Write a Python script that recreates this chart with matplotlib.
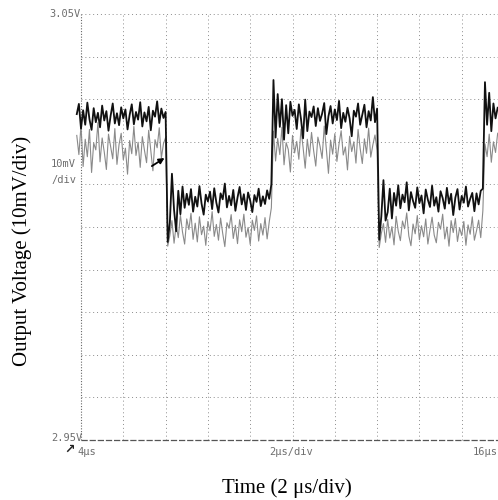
import numpy as np
import matplotlib
matplotlib.use("Agg")
import matplotlib.pyplot as plt

# scope settings
T_START = -4.2          # first sample, us
DT = 0.1                # sample spacing, us
V_REF = 3.000           # trace values below are mV relative to this

# dark trace (mV above 3.000 V)
black_mv = [
    # high, -4.2 .. 0.0 us
    26.5, 28.9, 23.1, 27.4, 24.0, 29.2, 25.3, 22.8, 27.9, 24.6,
    26.8, 23.4, 28.5, 25.0, 27.2, 22.6, 26.1, 29.0, 24.3, 26.7,
    23.9, 28.1, 25.5, 27.6, 22.9, 26.3, 28.8, 24.1, 27.0, 25.2,
    29.3, 23.6, 26.9, 24.8, 28.2, 22.7, 27.3, 25.9, 29.5, 24.4,
    27.8, 25.6, 27.0,
    # low, 0.1 .. 5.0 us
    -3.5, 1.0, 12.5, 4.0, -1.0, 8.5, 3.0, 9.5, 4.5, 7.8,
    5.2, 8.9, 3.6, 7.1, 4.8, 9.6, 5.5, 2.9, 7.6, 6.0,
    8.3, 4.2, 9.1, 5.7, 3.4, 7.9, 6.5, 10.2, 4.6, 7.3,
    5.1, 8.7, 3.8, 6.9, 9.4, 5.3, 7.7, 4.0, 8.1, 6.2,
    3.5, 7.5, 5.9, 9.0, 4.9, 7.2, 5.4, 8.6, 6.6, 10.0,
    # high, 5.1 .. 10.0 us
    34.5, 21.0, 31.2, 23.5, 30.0, 20.5, 28.6, 22.0, 29.4, 26.1,
    27.5, 23.0, 28.8, 25.4, 20.8, 29.9, 22.5, 27.1, 25.8, 28.3,
    23.7, 27.9, 24.9, 26.6, 29.1, 21.8, 26.0, 28.4, 24.3, 27.6,
    25.1, 29.6, 23.2, 26.8, 24.7, 28.0, 25.5, 21.3, 27.3, 25.9,
    29.0, 24.0, 26.4, 28.7, 23.4, 27.2, 25.0, 30.5, 24.6, 27.8,
    # low, 10.1 .. 15.0 us
    -3.0, 2.5, 11.0, 1.5, 3.5, 9.0, 2.0, 8.0, 5.0, 9.8,
    4.4, 7.6, 5.8, 10.5, 3.9, 8.2, 6.1, 4.5, 9.3, 5.6,
    7.4, 3.2, 8.8, 6.4, 4.7, 9.7, 5.0, 7.0, 3.6, 8.4,
    6.8, 4.3, 9.2, 5.5, 7.8, 2.8, 6.9, 8.9, 4.1, 7.3,
    5.7, 9.5, 4.8, 6.6, 8.0, 3.7, 7.9, 5.3, 8.5, 9.0,
    # high, 15.1 .. 15.7 us
    34.0, 24.0, 31.5, 22.5, 29.0, 25.5, 28.0,
]

# light trace (mV above 3.000 V)
gray_mv = [
    21.5, 17.0, 23.8, 14.2, 20.6, 16.5, 22.9, 12.8, 19.7, 18.1,
    24.5, 15.3, 20.9, 17.6, 13.5, 21.8, 18.9, 16.0, 23.1, 14.7,
    19.4, 22.0, 15.8, 18.5, 12.4, 20.3, 17.2, 23.6, 16.8, 19.9,
    14.0, 21.2, 18.0, 15.1, 22.7, 17.9, 13.2, 20.5, 18.6, 23.3,
    16.2, 19.6, 21.0,
    -4.5, -2.0, 1.5, -3.8, 0.5, -2.5, 2.8, -1.2, -4.0, 1.9,
    -0.6, 3.2, -2.9, 0.9, -3.5, 2.4, -1.8, 0.2, -4.3, 1.3,
    -0.9, 3.6, -2.2, 0.6, -3.1, 2.1, -1.5, -4.6, 1.0, -0.3,
    2.9, -2.7, 0.4, -3.9, 1.7, -1.1, 3.0, -2.4, -0.1, -4.1,
    1.6, -0.8, 2.6, -3.3, 0.8, -1.9, 2.2, -2.8, 1.2, 4.5,
    22.5, 15.5, 20.8, 17.0, 23.4, 14.6, 19.8, 18.2, 12.9, 21.5,
    17.4, 20.1, 15.9, 23.0, 18.7, 13.8, 20.6, 16.6, 22.2, 17.9,
    14.3, 21.1, 19.0, 16.1, 23.7, 18.3, 12.6, 20.4, 17.1, 21.9,
    15.4, 19.5, 22.6, 16.9, 18.8, 13.4, 21.3, 17.7, 20.0, 15.0,
    22.9, 18.4, 14.9, 20.7, 17.3, 23.2, 16.4, 19.3, 21.6, 18.0,
    -4.8, -1.5, 0.8, -3.6, 1.8, -2.6, 0.1, -4.2, 2.5, -1.0,
    -3.2, 1.4, -0.4, 3.3, -2.1, -4.4, 0.7, -1.6, 2.7, -3.0,
    0.3, -2.3, 1.9, -4.0, -0.7, 2.3, -1.9, -3.7, 1.1, -0.5,
    3.0, -2.8, 0.0, -4.5, 1.5, -1.3, 2.0, -3.4, -0.2, -2.0,
    1.3, -4.3, 0.5, -1.7, 2.4, -3.1, -0.9, 1.6, -2.5, 3.8,
    19.5, 16.5, 21.8, 15.2, 20.0, 17.5, 22.0,
]

# screen: 10 x 10 divisions
T_MIN, T_MAX = -4.0, 16.0
V_MIN, V_MAX = 2.95, 3.05

t = T_START + DT * np.arange(len(black_mv))
v_black = V_REF + np.array(black_mv) / 1000.0
v_gray = V_REF + np.array(gray_mv) / 1000.0

fig = plt.figure(figsize=(4.98, 5.0), dpi=100)
# right edge of the screen runs just past the picture, as in the scan
ax = fig.add_axes([81 / 498, 60 / 500, 423 / 498, 426 / 500])
ax.set_xlim(T_MIN, T_MAX)
ax.set_ylim(V_MIN, V_MAX)
for s in ax.spines.values():
    s.set_visible(False)
ax.set_xticks([])
ax.set_yticks([])

grid_kw = dict(color="#8c8c8c", lw=0.7, ls=(0, (1, 3)), zorder=1, clip_on=False)
for x in np.linspace(T_MIN, T_MAX, 11)[1:]:
    ax.axvline(x, **grid_kw)
for y in np.linspace(V_MIN, V_MAX, 11)[1:]:
    ax.axhline(y, **grid_kw)
ax.axvline(T_MIN, color="#666666", lw=0.8, ls=(0, (1, 1.5)), zorder=1, clip_on=False)
ax.axhline(V_MIN, color="#555555", lw=0.9, ls=(0, (5, 1.5)), zorder=1, clip_on=False)

ax.plot(t, v_gray, color="#8a8a8a", lw=0.8, zorder=2, clip_on=False)
ax.plot(t, v_black, color="#111111", lw=1.3, zorder=3, clip_on=False)

# marker arrow pointing at the falling edge
ax.annotate("", xy=(-0.05, 3.0162), xytext=(-0.65, 3.0143),
            arrowprops=dict(arrowstyle="-|>", color="black", lw=1.3,
                            mutation_scale=8, shrinkA=0, shrinkB=0))

# scope annotations
mono = dict(family="DejaVu Sans Mono", fontsize=7.5, color="#6e6e6e")
fig.text(81 / 498, 1 - 14 / 500, "3.05V", ha="right", va="center", **mono)
fig.text(76 / 498, 1 - 164 / 500, "10mV", ha="right", va="center", **mono)
fig.text(76 / 498, 1 - 180 / 500, "/div", ha="right", va="center", **mono)
fig.text(83 / 498, 1 - 438 / 500, "2.95V", ha="right", va="center", **mono)
fig.text(77 / 498, 1 - 452 / 500, "4\u03bcs", ha="left", va="center", **mono)
fig.text(291 / 498, 1 - 452 / 500, "2\u03bcs/div", ha="center", va="center", **mono)
fig.text(473 / 498, 1 - 452 / 500, "16\u03bcs", ha="left", va="center", **mono)
fig.text(70 / 498, 1 - 449 / 500, "\u2197", ha="center", va="center",
         family="DejaVu Sans", fontsize=9, fontweight="bold", color="#222222")

serif = dict(family="Liberation Serif", fontsize=15, color="black")
fig.text(22 / 498, 1 - 251 / 500, "Output Voltage (10mV/div)", rotation=90,
         ha="center", va="center", **serif)
fig.text(287 / 498, 1 - 488 / 500, "Time (2 \u03bcs/div)",
         ha="center", va="center", **serif)

fig.savefig("out.png", dpi=100, facecolor="white")
